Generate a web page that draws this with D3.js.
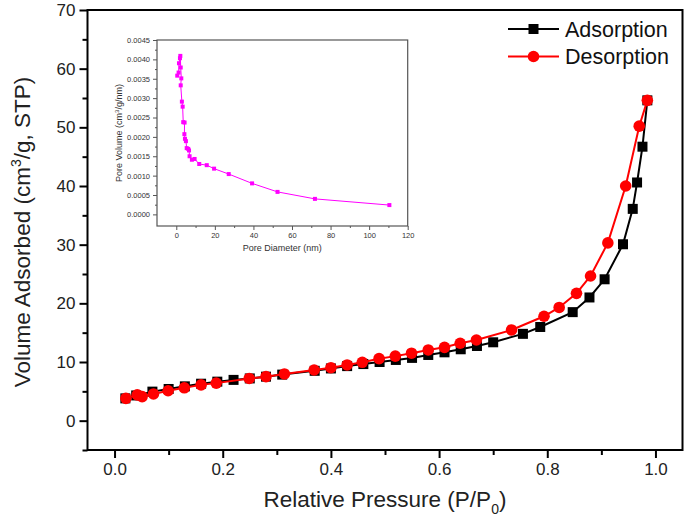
<!DOCTYPE html>
<html>
<head>
<meta charset="utf-8">
<script src="https://cdn.jsdelivr.net/npm/d3@7"></script>
<style>
  body { margin: 0; background: #fff; }
  svg { display: block; font-family: "Liberation Sans", Arial, sans-serif; }
</style>
</head>
<body>
<div id="chart"></div>
<script>
// isotherm data
var adsP = [0.02, 0.04, 0.07, 0.10, 0.13, 0.16, 0.19, 0.22, 0.25, 0.28, 0.31, 0.37, 0.40, 0.43, 0.46, 0.49,
    0.52, 0.55, 0.58, 0.61, 0.64, 0.67, 0.70, 0.755, 0.787, 0.847, 0.878, 0.906, 0.94, 0.958, 0.966, 0.976, 0.985];
var adsV = [3.8, 4.3, 4.95, 5.4, 5.85, 6.3, 6.65, 6.95, 7.2, 7.5, 7.85, 8.5, 8.9, 9.3, 9.65, 10.0,
    10.35, 10.7, 11.2, 11.65, 12.17, 12.73, 13.36, 14.8, 15.97, 18.5, 21.0, 24.1, 30.07, 36.1, 40.6, 46.7, 54.6];

var desP = [0.985, 0.970, 0.945, 0.912, 0.880, 0.854, 0.822, 0.794, 0.734, 0.669, 0.639, 0.61, 0.58, 0.549, 0.519,
    0.489, 0.458, 0.43, 0.40, 0.369, 0.314, 0.28, 0.249, 0.188, 0.16, 0.129, 0.099, 0.072, 0.051, 0.042, 0.021];
var desV = [54.6, 50.2, 40.0, 30.3, 24.66, 21.7, 19.3, 17.8, 15.46, 13.75, 13.2, 12.5, 12.05, 11.5, 11.0,
    10.57, 9.95, 9.5, 9.03, 8.64, 7.96, 7.5, 7.2, 6.4, 6.1, 5.6, 5.1, 4.55, 4.1, 4.4, 3.8];

// pore size distribution (inset)
var poreD = [0.5, 1.2, 1.4, 1.9, 2.1, 2.3, 2.6, 2.3, 2.9, 3.3, 3.6, 4.3, 4.2, 4.5, 5.0, 5.4, 6.2, 6.6, 6.9,
    8.1, 9.5, 11.9, 15.8, 19.6, 27.2, 39.3, 52.5, 71.9, 110.5];
var poreV = [0.00358, 0.00366, 0.0039, 0.00403, 0.00409, 0.00379, 0.00351, 0.00333, 0.00291, 0.00278, 0.00238,
    0.00237, 0.00207, 0.00195, 0.00189, 0.00171, 0.00169, 0.00165, 0.0015, 0.00141, 0.00143, 0.0013, 0.00127,
    0.00118, 0.00104, 0.0008, 0.00058, 0.0004, 0.00024];

var xTicks = [0.0, 0.2, 0.4, 0.6, 0.8, 1.0];
var yTicks = [0, 10, 20, 30, 40, 50, 60, 70];
var insetXTicks = [0, 20, 40, 60, 80, 100, 120];
var insetYTicks = [0, 0.0005, 0.001, 0.0015, 0.002, 0.0025, 0.003, 0.0035, 0.004, 0.0045];

var seriesNames = ["Adsorption", "Desorption"];

var width = 685, height = 524;
var svg = d3.select("#chart").append("svg")
    .attr("width", width)
    .attr("height", height);

//Main axes
var x = d3.scaleLinear().domain([-0.05, 1.05]).range([87.5, 682.5]);
var y = d3.scaleLinear().domain([-5, 70]).range([450, 10]);

var xAxis = d3.axisBottom(x).tickValues(xTicks).tickFormat(d3.format(".1f")).tickSize(8).tickPadding(5);
var xMinor = d3.axisBottom(x).tickValues(d3.range(0.1, 1.01, 0.2)).tickSize(5).tickFormat("");
var yAxis = d3.axisLeft(y).tickValues(yTicks).tickFormat(d3.format("d")).tickSize(8).tickPadding(4);
var yMinor = d3.axisLeft(y).tickValues(d3.range(-5, 70, 10)).tickSize(5).tickFormat("");

function styleAxis(g, fs) {
    g.select(".domain").remove();
    g.selectAll("line").attr("stroke", "#000").attr("stroke-width", 2);
    g.selectAll("text").attr("font-size", fs).attr("fill", "#222").attr("font-family", "Liberation Sans, Arial, sans-serif");
}

svg.append("g").attr("transform", "translate(0,450)").call(xAxis).call(styleAxis, "17px");
svg.append("g").attr("transform", "translate(0,450)").call(xMinor).call(styleAxis, "17px");
svg.append("g").attr("transform", "translate(87.5,0)").call(yAxis).call(styleAxis, "17px");
svg.append("g").attr("transform", "translate(87.5,0)").call(yMinor).call(styleAxis, "17px");

svg.append("rect")
    .attr("x", x(-0.05))
    .attr("y", y(70))
    .attr("width", x(1.05) - x(-0.05))
    .attr("height", y(-5) - y(70))
    .attr("fill", "none")
    .attr("stroke", "#000")
    .attr("stroke-width", 2);

//Axis titles
svg.append("text")
    .attr("transform", "translate(30," + ((y(70) + y(-5)) / 2 + 2) + ") rotate(-90)")
    .attr("text-anchor", "middle")
    .attr("font-size", "22.5px")
    .attr("fill", "#222")
    .html('Volume Adsorbed (cm<tspan dy="-9" font-size="14px">3</tspan><tspan dy="9">/g, STP)</tspan>');

svg.append("text")
    .attr("x", (x(-0.05) + x(1.05)) / 2)
    .attr("y", 507)
    .attr("text-anchor", "middle")
    .attr("font-size", "22.5px")
    .attr("fill", "#222")
    .html('Relative Pressure (P/P<tspan dy="7" font-size="14px">0</tspan><tspan dy="-7">)</tspan>');

//Series
var line = d3.line().x(function (d) { return x(d[0]); }).y(function (d) { return y(d[1]); });
var adsData = d3.zip(adsP, adsV);
var desData = d3.zip(desP, desV);

svg.append("path").datum(adsData)
    .attr("d", line).attr("fill", "none").attr("stroke", "#000").attr("stroke-width", 2);
svg.selectAll(".ads").data(adsData).enter().append("rect")
    .attr("class", "ads")
    .attr("x", function (d) { return x(d[0]) - 5; })
    .attr("y", function (d) { return y(d[1]) - 5; })
    .attr("width", 10).attr("height", 10)
    .attr("fill", "#000");

svg.append("path").datum(desData)
    .attr("d", line).attr("fill", "none").attr("stroke", "#f00").attr("stroke-width", 2);
svg.selectAll(".des").data(desData).enter().append("circle")
    .attr("class", "des")
    .attr("cx", function (d) { return x(d[0]); })
    .attr("cy", function (d) { return y(d[1]); })
    .attr("r", 5.8)
    .attr("fill", "#f00");

//Legend
var legend = svg.append("g").attr("transform", "translate(508,29)");
seriesNames.forEach(function (name, i) {
    var row = legend.append("g").attr("transform", "translate(0," + (i * 27.5) + ")");
    var col = i === 0 ? "#000" : "#f00";
    row.append("line").attr("x1", 0).attr("x2", 51).attr("stroke", col).attr("stroke-width", 2);
    if (i === 0) {
        row.append("rect").attr("x", 20.5).attr("y", -5).attr("width", 10).attr("height", 10).attr("fill", col);
    } else {
        row.append("circle").attr("cx", 25.5).attr("r", 5.8).attr("fill", col);
    }
    row.append("text")
        .attr("x", 57)
        .attr("y", 7.5)
        .attr("font-size", "21.5px")
        .attr("fill", "#111")
        .text(name);
});

//Inset
var ix = d3.scaleLinear().domain([-10, 120]).range([157, 407.7]);
var iy = d3.scaleLinear().domain([-0.0003, 0.0045]).range([226, 40]);

var inset = svg.append("g");
function styleInset(g) {
    g.select(".domain").remove();
    g.selectAll("line").attr("stroke", "#555").attr("stroke-width", 1);
    g.selectAll("text").attr("font-size", "7.5px").attr("fill", "#333").attr("font-family", "Liberation Sans, Arial, sans-serif");
}
inset.append("g").attr("transform", "translate(0,226)")
    .call(d3.axisBottom(ix).tickValues(insetXTicks).tickSize(4).tickPadding(3)).call(styleInset);
inset.append("g").attr("transform", "translate(0,226)")
    .call(d3.axisBottom(ix).tickValues(d3.range(10, 120, 20)).tickSize(2).tickFormat("")).call(styleInset);
inset.append("g").attr("transform", "translate(157,0)")
    .call(d3.axisLeft(iy).tickValues(insetYTicks).tickSize(4).tickPadding(3).tickFormat(d3.format(".4f"))).call(styleInset);
inset.append("g").attr("transform", "translate(157,0)")
    .call(d3.axisLeft(iy).tickValues(d3.range(0.00025, 0.0045, 0.0005)).tickSize(2).tickFormat("")).call(styleInset);

inset.append("rect")
    .attr("x", ix(-10)).attr("y", iy(0.0045))
    .attr("width", ix(120) - ix(-10)).attr("height", iy(-0.0003) - iy(0.0045))
    .attr("fill", "none").attr("stroke", "#555").attr("stroke-width", 1.2);

inset.append("text")
    .attr("transform", "translate(122," + ((iy(0.0045) + iy(-0.0003)) / 2) + ") rotate(-90)")
    .attr("text-anchor", "middle")
    .attr("font-size", "9px")
    .attr("fill", "#333")
    .html('Pore Volume (cm<tspan dy="-3.5" font-size="6px">3</tspan><tspan dy="3.5">/g/nm)</tspan>');

inset.append("text")
    .attr("x", (ix(-10) + ix(120)) / 2)
    .attr("y", 251)
    .attr("text-anchor", "middle")
    .attr("font-size", "9px")
    .attr("fill", "#333")
    .text("Pore Diameter (nm)");

var poreData = d3.zip(poreD, poreV);
var iline = d3.line().x(function (d) { return ix(d[0]); }).y(function (d) { return iy(d[1]); });
inset.append("path").datum(poreData)
    .attr("d", iline).attr("fill", "none").attr("stroke", "#f0f").attr("stroke-width", 1);
inset.selectAll(".pore").data(poreData).enter().append("rect")
    .attr("class", "pore")
    .attr("x", function (d) { return ix(d[0]) - 2; })
    .attr("y", function (d) { return iy(d[1]) - 2; })
    .attr("width", 4).attr("height", 4)
    .attr("fill", "#f0f");
</script>
</body>
</html>
